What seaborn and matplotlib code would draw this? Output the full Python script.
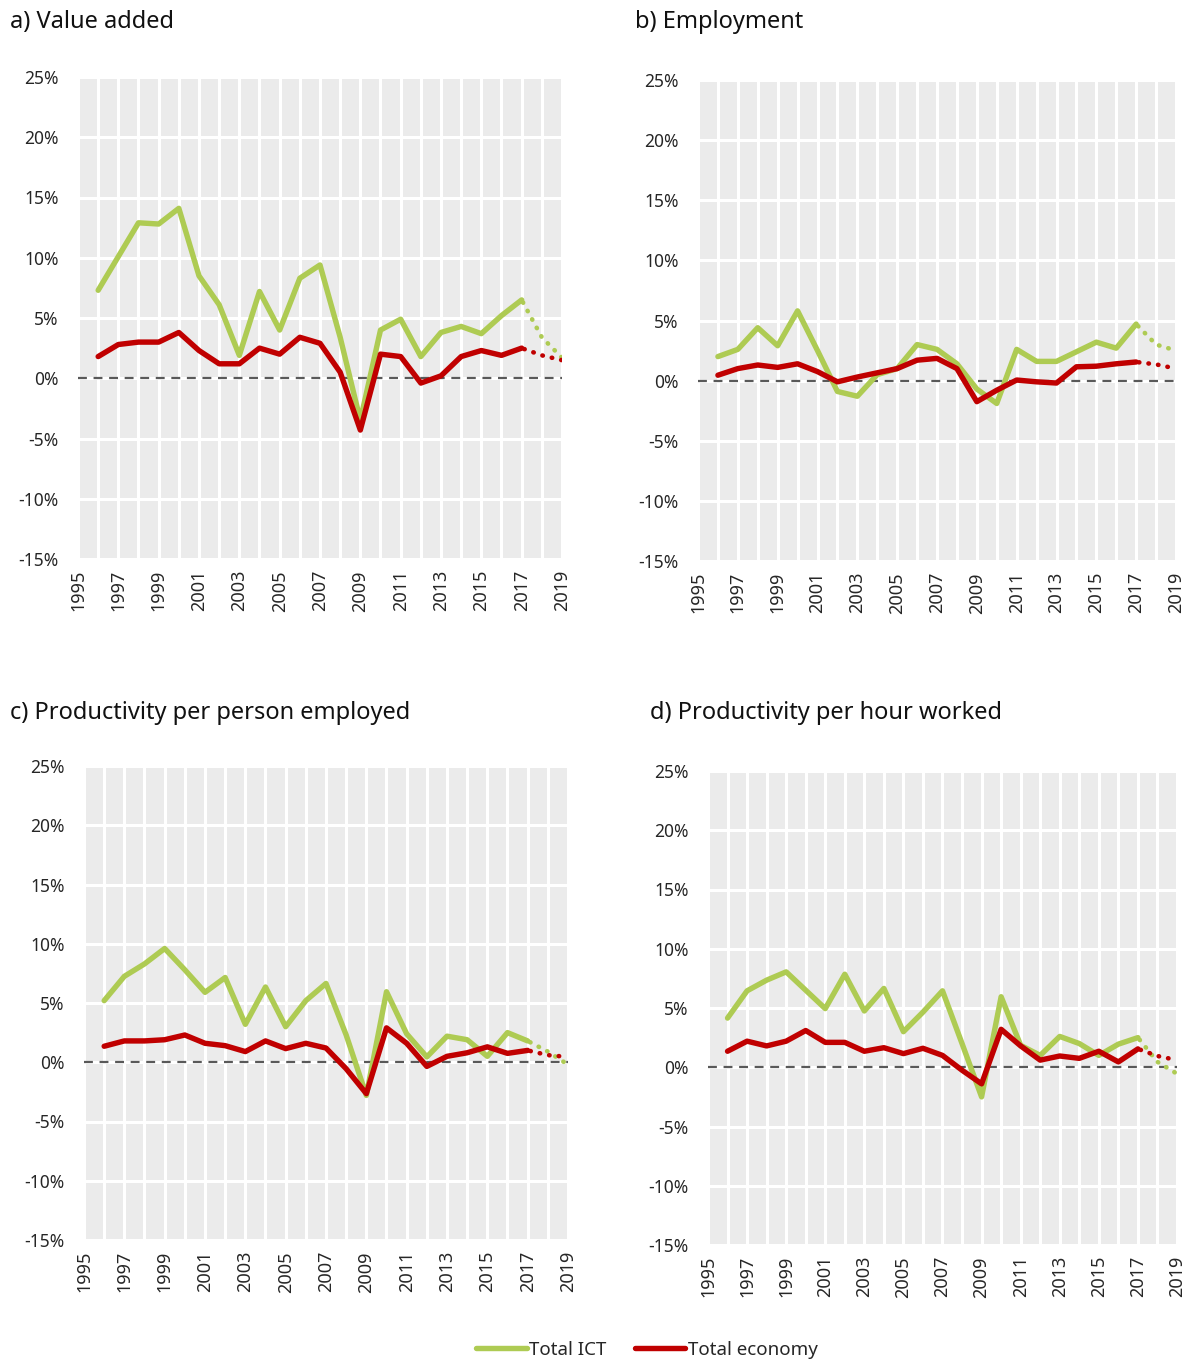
import numpy as np
import pandas as pd
import matplotlib
matplotlib.use("Agg")
import matplotlib.pyplot as plt
import seaborn as sns
from matplotlib.ticker import FuncFormatter, MultipleLocator

# annual growth rates (%), 1996-2019; 2018-2019 are projections
years = list(range(1996, 2020))

a_ict = [7.3, 10.1, 12.9, 12.8, 14.1, 8.5, 6.1, 1.9, 7.2, 4.0, 8.3, 9.4,
         3.4, -3.5, 4.0, 4.9, 1.8, 3.8, 4.3, 3.7, 5.2, 6.5, 3.4, 1.7]
a_eco = [1.8, 2.8, 3.0, 3.0, 3.8, 2.3, 1.2, 1.2, 2.5, 2.0, 3.4, 2.9,
         0.5, -4.3, 2.0, 1.8, -0.4, 0.2, 1.8, 2.3, 1.9, 2.5, 1.9, 1.5]

b_ict = [2.0, 2.6, 4.4, 2.9, 5.8, 2.5, -0.9, -1.3, 0.5, 1.0, 3.0, 2.6,
         1.4, -0.7, -1.9, 2.6, 1.6, 1.6, 2.4, 3.2, 2.7, 4.7, 3.0, 2.5]
b_eco = [0.45, 1.0, 1.3, 1.1, 1.4, 0.75, -0.1, 0.3, 0.65, 1.0, 1.7, 1.85,
         1.0, -1.75, -0.8, 0.05, -0.1, -0.2, 1.15, 1.2, 1.4, 1.55, 1.35, 1.0]

c_ict = [5.2, 7.25, 8.3, 9.6, 7.8, 5.9, 7.15, 3.2, 6.35, 3.0, 5.2, 6.65,
         2.3, -2.8, 5.95, 2.4, 0.45, 2.2, 1.9, 0.5, 2.5, 1.8, 0.9, -0.2]
c_eco = [1.35, 1.8, 1.8, 1.9, 2.3, 1.6, 1.4, 0.9, 1.8, 1.15, 1.6, 1.2,
         -0.55, -2.65, 2.9, 1.6, -0.35, 0.5, 0.8, 1.3, 0.75, 1.0, 0.6, 0.45]

d_ict = [4.15, 6.45, 7.35, 8.05, 6.5, 4.95, 7.85, 4.75, 6.65, 3.0, 4.65, 6.45,
         2.0, -2.5, 5.95, 1.85, 1.0, 2.6, 2.0, 1.0, 1.95, 2.5, 0.45, -0.55]
d_eco = [1.35, 2.2, 1.8, 2.2, 3.1, 2.1, 2.1, 1.35, 1.65, 1.15, 1.6, 1.0,
         -0.25, -1.4, 3.2, 1.8, 0.6, 0.95, 0.75, 1.35, 0.45, 1.55, 0.95, 0.6]

titles = ["a) Value added", "b) Employment",
          "c) Productivity per person employed", "d) Productivity per hour worked"]
series_names = ["Total ICT", "Total economy"]
panels = [(a_ict, a_eco), (b_ict, b_eco), (c_ict, c_eco), (d_ict, d_eco)]
last_actual = 2017

colors = {"Total ICT": "#AECB53", "Total economy": "#C00000"}

sns.set_style("darkgrid", {"axes.facecolor": "#EBEBEB", "grid.color": "white"})
plt.rcParams["font.family"] = ["Noto Sans", "DejaVu Sans"]

W, H = 1195, 1362
fig = plt.figure(figsize=(W / 100, H / 100), dpi=100)

# axes boxes in pixels: left, right, top, bottom
boxes = [(78, 562, 77, 559), (698, 1176, 80, 561),
         (84, 568, 766, 1240), (708, 1177, 771, 1245)]
title_pos = [(10, 22), (635, 22), (10, 713), (650, 713)]

for i, ((ict, eco), title) in enumerate(zip(panels, titles)):
    l, r, t, b = boxes[i]
    ax = fig.add_axes([l / W, 1 - b / H, (r - l) / W, (b - t) / H])
    df = pd.DataFrame({
        "year": years * 2,
        "growth": ict + eco,
        "series": ["Total ICT"] * len(years) + ["Total economy"] * len(years),
    })
    actual = df[df["year"] <= last_actual]
    proj = df[df["year"] >= last_actual]
    sns.lineplot(data=actual, x="year", y="growth", hue="series", palette=colors,
                 linewidth=3.9, legend=False, ax=ax, solid_capstyle="round",
                 solid_joinstyle="round")
    sns.lineplot(data=proj, x="year", y="growth", hue="series", palette=colors,
                 linewidth=3.3, legend=False, ax=ax, linestyle=(1.5, (0.1, 2.0)),
                 dash_capstyle="round")
    ax.axhline(0, color="#595959", linestyle=(0, (4, 3)), linewidth=1.6, zorder=1)

    ax.set_xlim(1995, 2019)
    ax.set_ylim(-15, 25)
    ax.xaxis.set_minor_locator(MultipleLocator(1))
    ax.set_xticks(range(1995, 2020, 2))
    ax.yaxis.set_major_locator(MultipleLocator(5))
    ax.yaxis.set_major_formatter(FuncFormatter(lambda v, p: f"{v:.0f}%"))
    ax.grid(which="both", color="white", linewidth=2.2)
    ax.tick_params(axis="x", labelrotation=90, labelsize=13, colors="#262626", pad=8, length=0)
    ax.tick_params(axis="y", labelsize=12.5, colors="#262626", pad=14, length=0)
    ax.tick_params(which="minor", length=0)
    ax.set_xlabel("")
    ax.set_ylabel("")
    for s in ax.spines.values():
        s.set_visible(False)

    tx, ty = title_pos[i]
    fig.text(tx / W, 1 - ty / H, title, fontsize=17, color="#111111",
             ha="left", va="center")

handles = [plt.Line2D([], [], color=colors[n], linewidth=3.9, solid_capstyle="round")
           for n in series_names]
fig.legend(handles, series_names, loc="center", bbox_to_anchor=(647 / W, 1 - 1350 / H),
           ncol=2, frameon=False, fontsize=13.5, handlelength=2.7, handletextpad=0.15,
           columnspacing=1.5)

fig.savefig("out.png", dpi=100)
